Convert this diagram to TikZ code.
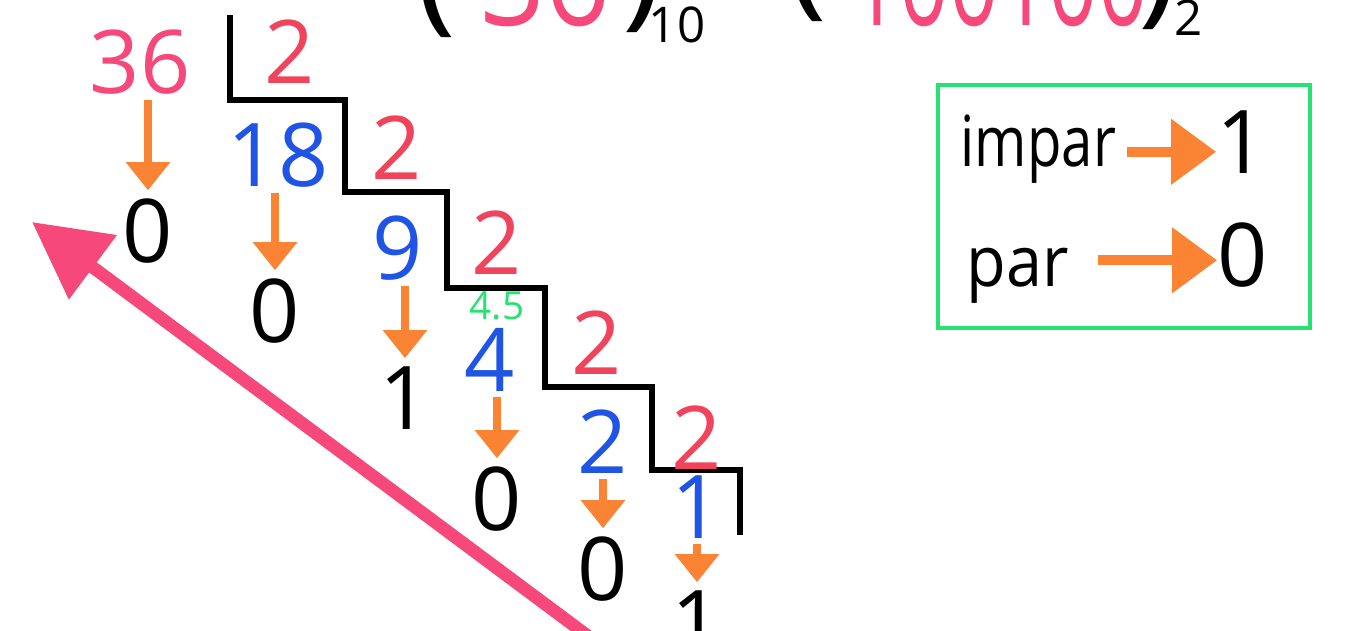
\documentclass[tikz,border=0pt]{standalone}
\usepackage{fontspec}
\usepackage{graphicx}
\setmainfont{Open Sans}
\usetikzlibrary{arrows.meta}

\definecolor{rosa}{RGB}{240,68,92}
\definecolor{fucsia}{RGB}{246,72,122}
\definecolor{azul}{RGB}{32,84,228}
\definecolor{naranja}{RGB}{250,132,52}
\definecolor{verde}{RGB}{38,226,112}

\newcommand{\cifras}{\fontsize{25}{25}\selectfont}
\newcommand{\titulo}{\fontsize{38}{38}\selectfont}
\newcommand{\indice}{\fontsize{14}{14}\selectfont}
\newcommand{\palabra}{\fontsize{20}{20}\selectfont}

\begin{document}
\begin{tikzpicture}[x=0.01cm, y=-0.01cm,
    every node/.style={inner sep=0pt, font=\cifras},
    divisor/.style={text=rosa},
    cociente/.style={text=azul},
    resto/.style={text=black},
    bajar/.style={draw=naranja, line width=2pt, -{Triangle[width=12.2pt, length=8pt]}, shorten <=1.4pt, shorten >=2.2pt},
    regla/.style={draw=naranja, line width=2.8pt, -{Triangle[width=18pt, length=12.8pt]}},
    escalera/.style={line width=1.5pt, line join=miter}]
    \useasboundingbox (0,0) rectangle (1363,631);
    \clip (0,0) rectangle (1363,631);
    \fill[white] (0,0) rectangle (1363,631);

    % titulo (cortado por arriba)
    \node[anchor=south, font=\titulo] (parA) at (436,38) {(};
    \node[anchor=base, font=\titulo, text=fucsia] (decimal) at (545,26) {\scalebox{0.85}[1]{36}};
    \node[anchor=south, font=\titulo] (parB) at (642,33) {)};
    \node[anchor=base, font=\indice] (base10) at (677,43) {10};
    \node[anchor=south, font=\titulo] (parC) at (807,22) {(};
    \node[anchor=base, font=\titulo, text=fucsia] (binario) at (999,26) {\scalebox{0.65}[1]{100100}};
    \node[anchor=south, font=\titulo] (parD) at (1158,30) {)};
    \node[anchor=base, font=\indice] (base2) at (1189,36) {2};

    % escalera
    \draw[escalera] (230,15) -- (230,100) -- (345,100) -- (345,192) -- (447,192) -- (447,288)
        -- (545,288) -- (545,387) -- (652,387) -- (652,470) -- (740,470) -- (740,535);

    % divisores
    \node[divisor] (d1) at (290,52) {2};
    \node[divisor] (d2) at (397,148) {2};
    \node[divisor] (d3) at (497,243) {2};
    \node[divisor] (d4) at (597,343) {2};
    \node[divisor] (d5) at (697,438) {2};

    % cocientes
    \node[text=fucsia] (q0) at (140,62) {36};
    \node[cociente] (q1) at (278,155) {18};
    \node[cociente] (q2) at (398,248) {9};
    \node[cociente] (q3) at (490,360) {4};
    \node[cociente] (q4) at (603,442) {2};
    \node[cociente] (q5) at (697,507) {1};
    \node[text=verde, font=\fontsize{11}{11}\selectfont] (medio) at (497,306) {4.5};

    % restos
    \node[resto] (r1) at (148,231) {0};
    \node[resto] (r2) at (275,311) {0};
    \node[resto] (r3) at (405,398) {1};
    \node[resto] (r4) at (497,499) {0};
    \node[resto] (r5) at (603,569) {0};
    \node[resto] (r6) at (697,622) {1};

    \draw[bajar] (r1.north |- q0.south) -- (r1.north);
    \draw[bajar] (r2.north |- q1.south) -- (r2.north);
    \draw[bajar] (r3.north |- q2.south) -- (r3.north);
    \draw[bajar] (r4.north |- q3.south) -- (r4.north);
    \draw[bajar] (r5.north |- q4.south) -- (r5.north);
    \draw[bajar] (r6.north |- q5.south) -- (r6.north);

    % flecha de lectura
    \coordinate (cola) at (600,645);
    \coordinate (punta) at (32,222);
    \draw[fucsia, line width=3.6pt, -{Triangle[width=21.9pt, length=21.6pt]}] (cola) -- (punta);

    % leyenda
    \draw[verde, line width=1.4pt] (938,85) rectangle (1310,328);
    \node[anchor=base west, font=\palabra] (impar) at (960,167) {\scalebox{0.8}[1]{impar}};
    \node[anchor=base west, font=\palabra] (par) at (966,287) {\scalebox{0.92}[1]{par}};
    \node (uno) at (1242,142) {1};
    \node (cero) at (1243,255) {0};
    \draw[regla, shorten <=3pt] ([yshift=-2.8pt]uno.west -| impar.east) -- ([yshift=-2.8pt]uno.west);
    \draw[regla, shorten <=8pt] ([yshift=-1.5pt]cero.west -| par.east) -- ([yshift=-1.5pt]cero.west);
\end{tikzpicture}
\end{document}
